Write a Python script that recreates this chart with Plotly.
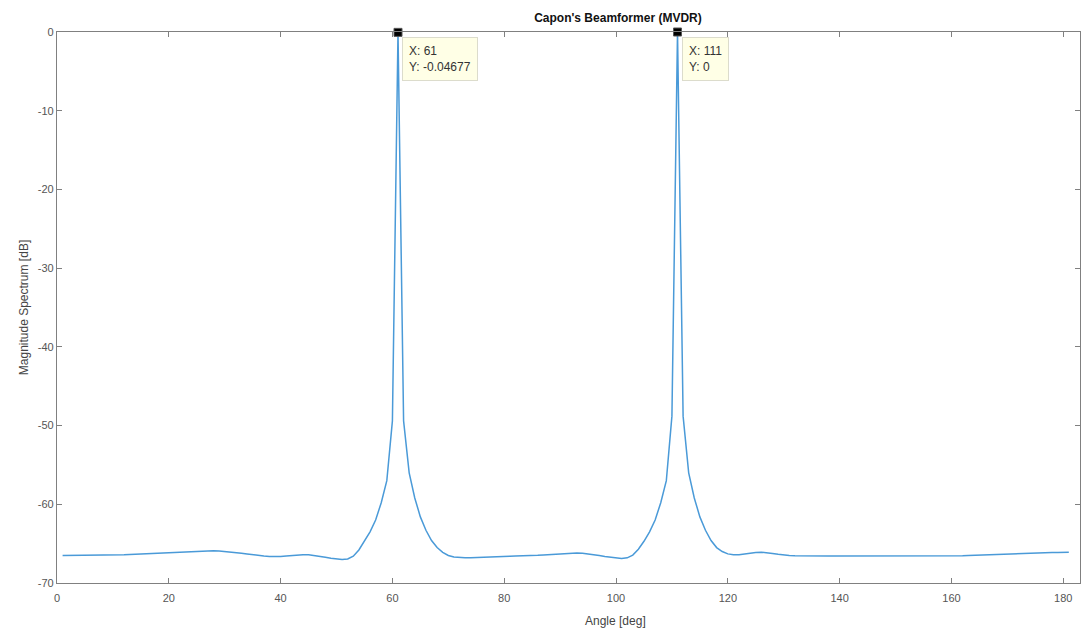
import plotly.graph_objects as go

angles = list(range(1, 182))
spectrum_db = [
    -66.5, -66.5, -66.5, -66.5, -66.5, -66.5, -66.48, -66.47, -66.46, -66.45,
    -66.43, -66.41, -66.38, -66.35, -66.32, -66.29, -66.26, -66.22, -66.18, -66.14,
    -66.1, -66.06, -66.02, -65.98, -65.95, -65.92, -65.9, -65.9, -65.93, -65.98,
    -66.05, -66.13, -66.22, -66.32, -66.42, -66.5, -66.57, -66.62, -66.64, -66.63,
    -66.58, -66.5, -66.43, -66.4, -66.42, -66.5, -66.6, -66.72, -66.85, -66.95,
    -67.0, -66.95, -66.6, -65.8, -64.7, -63.5, -62.0, -59.8, -57.0, -49.4,
    -0.04677, -49.4, -56.0, -59.2, -61.6, -63.3, -64.6, -65.5, -66.1, -66.5,
    -66.7, -66.78, -66.8, -66.78, -66.74, -66.7, -66.66, -66.63, -66.61, -66.6,
    -66.59, -66.58, -66.57, -66.55, -66.52, -66.48, -66.43, -66.38, -66.32, -66.27,
    -66.23, -66.2, -66.2, -66.23, -66.3, -66.4, -66.52, -66.64, -66.75, -66.84,
    -66.88, -66.8, -66.45, -65.7, -64.7, -63.5, -62.0, -59.8, -57.0, -48.8,
    0.0, -48.8, -56.0, -59.2, -61.6, -63.3, -64.6, -65.5, -66.0, -66.3,
    -66.42, -66.4, -66.3, -66.2, -66.12, -66.1, -66.15, -66.25, -66.36, -66.45,
    -66.5, -66.53, -66.55, -66.56, -66.56, -66.56, -66.56, -66.56, -66.56, -66.56,
    -66.56, -66.56, -66.57, -66.57, -66.58, -66.58, -66.59, -66.59, -66.6, -66.6,
    -66.6, -66.61, -66.61, -66.62, -66.62, -66.62, -66.62, -66.61, -66.6, -66.58,
    -66.56, -66.53, -66.5, -66.47, -66.44, -66.41, -66.38, -66.35, -66.32, -66.29,
    -66.26, -66.23, -66.2, -66.18, -66.16, -66.14, -66.13, -66.12, -66.11, -66.1,
    -66.1,
]
assert len(spectrum_db) == len(angles)

tip_x = [61, 111]
tip_y = [-0.04677, 0]
tip_labels = ["X: 61<br>Y: -0.04677", "X: 111<br>Y: 0"]

x_ticks = list(range(0, 181, 20))
x_tick_text = [str(v) for v in x_ticks]
y_ticks = list(range(-70, 1, 10))
y_tick_text = [str(v) for v in y_ticks]

FONT = "Liberation Sans, Arial"

fig = go.Figure()
fig.add_trace(go.Scatter(
    x=angles, y=spectrum_db, mode="lines",
    line=dict(color="#4a9ad8", width=1.5),
    showlegend=False, hoverinfo="skip",
))
fig.add_trace(go.Scatter(
    x=tip_x, y=tip_y, mode="markers",
    marker=dict(symbol="square", size=8, color="black",
                line=dict(color="#555555", width=1)),
    cliponaxis=False, showlegend=False, hoverinfo="skip",
))

for tx, ty, lab in zip(tip_x, tip_y, tip_labels):
    fig.add_annotation(
        x=tx, y=ty, xref="x", yref="y", text=lab, showarrow=False,
        xanchor="left", yanchor="top", xshift=4, yshift=-5, align="left",
        bgcolor="#ffffe6", bordercolor="#dcdccc", borderwidth=1, borderpad=6,
        font=dict(family=FONT, size=12, color="#333333"),
    )

# x-axis label (placed as in the reference, slightly right of centre)
fig.add_annotation(
    x=0.546, y=-0.069, xref="paper", yref="paper", text="Angle [deg]",
    showarrow=False, xanchor="center", yanchor="middle",
    font=dict(family=FONT, size=12, color="#444444"),
)

axis_common = dict(
    showline=True, linecolor="#808080", linewidth=1.2, mirror="allticks",
    ticks="inside", ticklen=5, tickcolor="#808080", showgrid=False, zeroline=False,
    automargin=False,
    tickfont=dict(family=FONT, size=11, color="#555555"),
)

fig.update_layout(
    width=1083, height=629,
    margin=dict(l=57, r=3, t=32, b=46),
    paper_bgcolor="white", plot_bgcolor="white",
    title=dict(text="<b>Capon's Beamformer (MVDR)</b>", x=0.5706, xanchor="center",
               y=0.971, yanchor="middle",
               font=dict(family=FONT, size=12, color="#111111")),
    xaxis=dict(range=[0, 183], tickvals=x_ticks, ticktext=x_tick_text,
               ticklabelstandoff=5, **axis_common),
    yaxis=dict(range=[-70, 0], tickvals=y_ticks, ticktext=y_tick_text,
               title=dict(text="Magnitude Spectrum [dB]", standoff=6,
                          font=dict(family=FONT, size=12, color="#444444")),
               **axis_common),
)

fig.write_html(
    "out.html",
    config={"displayModeBar": False},
    post_script="document.body.style.margin='0';document.body.style.overflow='hidden';",
)
